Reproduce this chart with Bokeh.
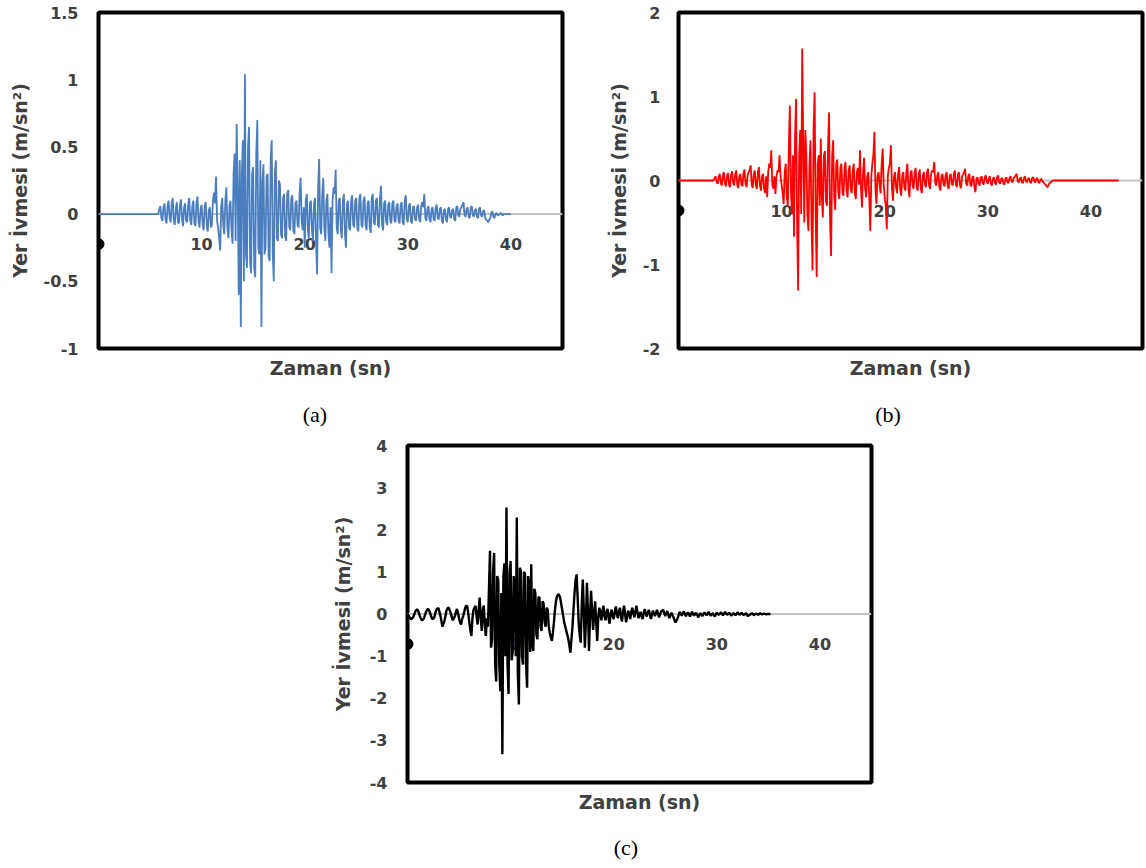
from bokeh.plotting import figure
from bokeh.models import Range1d, FixedTicker, Span, NumeralTickFormatter, Spacer, Div
from bokeh.layouts import row, column
from bokeh.embed import file_html
from bokeh.resources import INLINE
from bokeh.core.properties import value

# ---------------- data ----------------
dt = 0.1  # sampling step of the digitised records (s)

# (a) blue record, samples from t = 5.8 s
t0_a = 5.8
acc_a = [
    0.00, 0.04, 0.06, -0.03, -0.05, 0.05, 0.08, -0.04, -0.07, 0.06,
    0.10, -0.03, -0.06, 0.08, 0.12, -0.05, -0.08, 0.04, 0.09, -0.06,
    -0.07, 0.07, 0.11, -0.04, -0.09, 0.05, 0.08, -0.05, -0.06, 0.07,
    0.12, -0.05, -0.08, 0.06, 0.10, -0.07, -0.09, 0.08, 0.13, -0.06,
    -0.10, 0.04, 0.07, -0.08, -0.12, 0.06, 0.09, -0.09, -0.13, 0.03,
    0.05, -0.10, -0.08, 0.10, 0.16, 0.08, 0.28, -0.05, -0.10, -0.18,
    -0.27, 0.05, 0.12, -0.08, -0.15, 0.10, 0.20, -0.10, -0.18, 0.06,
    0.10, -0.12, -0.22, 0.30, 0.45, -0.20, 0.67, 0.20, -0.60, 0.40,
    -0.84, 0.30, 0.55, -0.50, 1.04, -0.30, -0.40, 0.50, 0.65, -0.35,
    -0.44, 0.30, 0.35, -0.40, -0.47, 0.45, 0.70, -0.25, -0.30, 0.40,
    -0.84, 0.25, 0.37, -0.30, -0.25, 0.28, 0.30, -0.32, -0.35, 0.42,
    0.55, -0.30, -0.50, 0.30, 0.40, -0.18, -0.20, 0.25, 0.22, -0.15,
    -0.18, 0.12, 0.15, -0.16, -0.20, 0.15, 0.18, -0.10, -0.12, 0.12,
    0.14, -0.12, -0.15, 0.08, 0.10, -0.08, -0.10, 0.15, 0.27, -0.05,
    -0.12, 0.05, -0.25, 0.10, 0.15, -0.12, -0.18, 0.08, 0.10, -0.12,
    -0.20, 0.08, 0.12, -0.20, -0.45, 0.20, 0.41, -0.10, -0.15, 0.15,
    0.27, -0.10, -0.20, 0.10, 0.15, -0.15, -0.25, 0.05, -0.44, 0.10,
    0.20, 0.15, 0.33, -0.10, -0.15, 0.10, 0.12, -0.12, -0.18, 0.10,
    0.15, -0.15, -0.25, 0.08, 0.10, -0.10, -0.12, 0.10, 0.14, -0.08,
    -0.10, 0.10, 0.12, -0.10, -0.13, 0.12, 0.15, -0.08, -0.10, 0.10,
    0.13, -0.08, -0.12, 0.08, 0.10, -0.10, -0.14, 0.12, 0.15, -0.06,
    -0.08, 0.10, 0.12, -0.08, -0.10, 0.12, 0.21, -0.08, -0.12, 0.08,
    0.10, -0.06, -0.08, 0.07, 0.09, -0.05, -0.07, 0.08, 0.10, -0.05,
    -0.06, 0.06, 0.08, -0.05, -0.07, 0.07, 0.09, -0.06, -0.08, 0.10,
    0.14, -0.04, -0.06, 0.06, 0.08, -0.05, -0.07, 0.05, 0.06, -0.04,
    -0.05, 0.05, 0.07, -0.04, -0.06, 0.06, 0.09, 0.05, 0.15, -0.03,
    -0.05, 0.04, 0.06, -0.04, -0.06, 0.04, 0.05, -0.04, -0.05, 0.05,
    0.07, -0.03, -0.04, 0.04, 0.05, -0.05, -0.07, 0.03, 0.04, -0.04,
    -0.06, 0.04, 0.05, -0.02, -0.03, 0.03, 0.04, -0.04, -0.05, 0.05,
    0.06, -0.01, -0.02, 0.04, 0.05, 0.07, 0.09, -0.01, -0.02, 0.04,
    0.05, -0.02, -0.03, 0.05, 0.06, -0.01, -0.02, 0.03, 0.04, -0.02,
    -0.03, 0.04, 0.05, -0.01, -0.02, 0.02, 0.03, -0.03, -0.04, -0.05,
    -0.06, -0.04, -0.03, 0.01, 0.02, -0.02, -0.03, 0.00, 0.01, -0.01,
    -0.01, 0.00, 0.01, 0.00, -0.01, 0.00,
]
end_a = 40.0

# (b) red record, samples from t = 3.4 s
t0_b = 3.4
acc_b = [
    0.00, 0.03, 0.05, -0.02, -0.04, 0.05, 0.08, -0.03, -0.06, 0.06,
    0.10, -0.04, -0.07, 0.05, 0.09, -0.05, -0.08, 0.07, 0.11, -0.03,
    -0.06, 0.08, 0.12, -0.05, -0.09, 0.05, 0.08, -0.04, -0.07, 0.09,
    0.13, -0.04, -0.08, 0.06, 0.10, 0.12, 0.18, -0.05, -0.09, 0.08,
    0.12, -0.06, -0.10, 0.10, 0.16, -0.06, -0.12, 0.05, 0.08, -0.10,
    -0.15, 0.05, -0.20, 0.10, 0.20, 0.15, 0.36, -0.05, -0.10, 0.05,
    -0.16, 0.05, 0.12, 0.10, 0.30, 0.05, -0.05, -0.15, -0.28, 0.10,
    0.20, -0.20, -0.30, 0.40, 0.89, -0.10, -0.40, 0.30, -0.67, 0.50,
    0.97, -0.50, -1.31, 0.30, 0.60, -0.40, 1.57, 0.40, -0.50, 0.60,
    0.30, -0.40, -0.60, 0.20, 0.48, -0.50, -1.07, 0.60, 1.05, -0.40,
    -1.15, 0.20, 0.30, -0.30, 0.50, -0.20, -0.44, 0.30, 0.35, -0.25,
    -0.30, 0.40, 0.81, -0.50, -0.90, 0.30, 0.48, -0.20, -0.35, 0.20,
    0.25, -0.15, -0.22, 0.15, 0.20, -0.15, -0.18, 0.15, 0.22, -0.12,
    -0.20, 0.12, 0.18, -0.10, -0.15, 0.12, 0.20, -0.15, -0.22, 0.10,
    0.15, -0.05, 0.36, -0.10, -0.32, 0.10, 0.27, -0.10, -0.20, 0.05,
    0.10, -0.20, -0.60, 0.05, 0.20, 0.30, 0.58, -0.10, -0.28, 0.05,
    0.10, -0.05, -0.15, 0.20, 0.38, -0.05, -0.20, -0.30, -0.58, 0.05,
    0.15, 0.20, 0.42, -0.10, -0.24, 0.05, 0.10, -0.08, -0.15, 0.08,
    0.16, -0.10, -0.18, 0.06, 0.10, -0.08, -0.12, 0.10, 0.20, -0.10,
    -0.20, 0.08, 0.12, -0.06, -0.10, 0.10, 0.15, -0.08, -0.12, 0.08,
    0.13, -0.10, -0.15, 0.06, 0.10, -0.05, -0.08, 0.10, 0.14, -0.06,
    -0.10, 0.08, 0.12, 0.10, 0.22, -0.03, -0.06, 0.06, 0.10, -0.08,
    -0.12, 0.05, 0.08, -0.04, -0.07, 0.06, 0.10, -0.06, -0.10, 0.05,
    0.08, -0.04, -0.06, 0.08, 0.12, -0.05, -0.08, 0.07, 0.10, -0.06,
    -0.09, 0.05, 0.07, 0.10, 0.14, -0.04, -0.06, 0.05, 0.08, -0.05,
    -0.07, 0.04, 0.05, -0.08, -0.14, 0.02, 0.04, -0.04, -0.06, 0.03,
    0.05, -0.03, -0.05, 0.04, 0.06, -0.02, -0.04, 0.03, 0.05, -0.04,
    -0.06, 0.02, 0.04, -0.03, -0.05, 0.04, 0.06, -0.02, -0.04, 0.02,
    0.03, -0.03, -0.05, 0.02, 0.04, -0.02, -0.03, 0.03, 0.05, -0.01,
    -0.02, 0.03, 0.04, 0.06, 0.08, -0.01, -0.02, 0.02, 0.04, -0.02,
    -0.03, 0.03, 0.05, -0.01, -0.02, 0.02, 0.03, -0.02, -0.03, 0.03,
    0.04, -0.01, -0.02, 0.02, 0.03, -0.02, -0.03, 0.01, 0.02, -0.01,
    -0.02, -0.04, -0.05, -0.07, -0.08, -0.05, -0.03, -0.02, -0.01, 0.00,
    0.00,
]
end_b = 42.7

# (c) black record, samples from t = 0 s
t0_c = 0.0
acc_c = [
    0.00, -0.04, -0.08, -0.11, -0.12, -0.09, -0.05, 0.02, 0.08, 0.10,
    0.10, 0.03, -0.05, -0.11, -0.15, -0.13, -0.10, -0.02, 0.05, 0.10,
    0.12, 0.08, 0.02, -0.06, -0.12, -0.11, -0.08, 0.02, 0.10, 0.13,
    0.14, 0.05, -0.05, -0.18, -0.30, -0.22, -0.15, -0.02, 0.10, 0.14,
    0.15, 0.08, 0.02, -0.08, -0.15, -0.10, -0.05, 0.05, 0.12, 0.02,
    -0.10, -0.20, -0.25, -0.12, -0.05, 0.05, 0.15, 0.20, 0.18, 0.00,
    -0.20, -0.40, -0.52, -0.10, 0.10, 0.15, 0.19, -0.05, -0.25, 0.10,
    0.39, -0.10, -0.40, 0.10, 0.20, -0.30, -0.52, -0.10, -0.30, 0.60,
    1.50, -0.80, -0.60, 1.00, 1.45, -1.20, -1.60, 0.90, 0.80, -1.20,
    -1.83, 0.50, -3.33, 0.90, 1.20, -1.00, 2.53, -1.20, -1.90, 1.00,
    1.26, -1.10, -0.90, 0.90, 0.60, -1.00, 2.29, -1.40, -2.15, 1.10,
    1.00, -1.00, -1.20, 1.00, 0.95, -1.20, -1.75, 0.90, 0.70, -0.90,
    1.18, -0.70, -0.88, 0.60, 0.50, -0.50, -0.60, 0.40, 0.39, -0.30,
    -0.40, 0.30, 0.25, -0.20, -0.30, 0.15, 0.10, -0.30, -0.45, -0.55,
    -0.64, -0.45, -0.20, 0.10, 0.30, 0.42, 0.47, 0.45, 0.39, 0.25,
    0.10, -0.05, -0.20, -0.30, -0.40, -0.50, -0.60, -0.75, -0.92, -0.60,
    -0.30, 0.10, 0.50, 0.80, 0.94, 0.40, -0.20, -0.50, -0.68, 0.20,
    0.82, 0.10, -0.80, -0.20, 0.74, 0.10, -0.88, -0.10, 0.55, 0.10,
    -0.38, 0.00, 0.30, -0.20, -0.64, -0.10, 0.15, 0.05, -0.15, 0.05,
    0.20, -0.05, -0.15, 0.05, 0.12, -0.10, -0.23, 0.02, 0.10, -0.05,
    -0.12, 0.05, 0.18, 0.02, -0.10, 0.05, 0.15, -0.05, -0.18, 0.05,
    0.20, 0.00, -0.20, -0.05, 0.08, 0.00, -0.12, 0.05, 0.15, 0.02,
    -0.08, 0.05, 0.20, 0.05, -0.10, -0.02, 0.05, -0.05, -0.12, 0.02,
    0.12, 0.02, -0.06, 0.03, 0.10, 0.00, -0.12, -0.02, 0.08, 0.02,
    -0.05, 0.03, 0.10, 0.00, -0.08, 0.00, 0.06, 0.08, 0.10, 0.02,
    -0.05, 0.02, 0.07, -0.02, -0.10, -0.03, 0.03, -0.03, -0.08, -0.15,
    -0.20, -0.15, -0.10, -0.02, 0.05, 0.00, -0.04, 0.02, 0.06, 0.00,
    -0.05, 0.00, 0.04, -0.01, -0.06, 0.00, 0.05, 0.00, -0.04, 0.00,
    0.03, -0.03, -0.08, -0.02, 0.02, -0.02, -0.05, 0.00, 0.04, 0.00,
    -0.03, 0.01, 0.05, 0.00, -0.04, -0.01, 0.02, -0.02, -0.06, -0.01,
    0.03, 0.00, -0.02, 0.01, 0.04, 0.00, -0.03, 0.01, 0.05, 0.01,
    -0.02, 0.00, 0.03, 0.00, -0.04, -0.01, 0.02, 0.00, -0.03, 0.00,
    0.04, 0.01, -0.02, 0.00, 0.03, 0.00, -0.03, -0.01, 0.02, 0.00,
    -0.05, -0.03, -0.02, 0.00, 0.02, 0.00, -0.03, -0.01, 0.01, 0.00,
    -0.02, 0.00, 0.02, 0.00, -0.01, 0.00, 0.01, 0.00, -0.01, 0.00,
    0.00,
]
end_c = 35.2

x_range_max = 45
x_ticks = [10, 20, 30, 40]
x_tick_labels = ["10", "20", "30", "40"]

y_ticks_a = [-1, -0.5, 0, 0.5, 1, 1.5]
y_ticks_b = [-2, -1, 0, 1, 2]
y_ticks_c = [-4, -3, -2, -1, 0, 1, 2, 3, 4]

y_title = "Yer İvmesi (m/sn²)"
x_title = "Zaman (sn)"
captions = ["(a)", "(b)", "(c)"]

# ---------------- styling ----------------
FONT = "DejaVu Sans"
TXT = "#404040"
FRAME_W = 464


def series(t0, acc, t_end):
    ts = [round(t0 + i * dt, 3) for i in range(len(acc))]
    ys = list(acc)
    if t0 > 0:
        ts = [0.0] + ts
        ys = [0.0] + ys
    ts = ts + [t_end]
    ys = ys + [0.0]
    return ts, ys


def panel(ts, ys, color, lw, ymin, ymax, yticks, fmt,
          width, height, left, right, top, bottom, frame_h, y_std, t_std):
    p = figure(width=width, height=height, output_backend="svg", toolbar_location=None,
               x_range=Range1d(0, x_range_max), y_range=Range1d(ymin, ymax),
               min_border_left=left, min_border_right=right,
               min_border_top=top, min_border_bottom=bottom)
    p.background_fill_color = "white"
    p.border_fill_color = "white"
    p.outline_line_color = "black"
    p.outline_line_width = 4
    p.xgrid.visible = False
    p.ygrid.visible = False

    # y axis: labels only
    ax = p.yaxis[0]
    ax.ticker = FixedTicker(ticks=yticks)
    ax.formatter = NumeralTickFormatter(format=fmt)
    ax.axis_line_color = None
    ax.major_tick_line_color = None
    ax.minor_tick_line_color = None
    ax.major_tick_out = 0
    ax.major_tick_in = 0
    ax.major_label_standoff = y_std
    ax.major_label_text_font = FONT
    ax.major_label_text_font_style = "bold"
    ax.major_label_text_font_size = "16px"
    ax.major_label_text_color = TXT
    ax.axis_label = y_title
    ax.axis_label_text_font = FONT
    ax.axis_label_text_font_style = "bold"
    ax.axis_label_text_font_size = "19px"
    ax.axis_label_text_color = TXT
    ax.axis_label_standoff = t_std

    # x axis: title only (tick labels sit inside the frame, as in Excel)
    bx = p.xaxis[0]
    bx.ticker = FixedTicker(ticks=[])
    bx.axis_line_color = None
    bx.major_tick_line_color = None
    bx.minor_tick_line_color = None
    bx.major_tick_out = 0
    bx.major_tick_in = 0
    bx.major_label_standoff = 0
    bx.axis_label = x_title
    bx.axis_label_text_font = FONT
    bx.axis_label_text_font_style = "bold"
    bx.axis_label_text_font_size = "19px"
    bx.axis_label_text_color = TXT
    bx.axis_label_standoff = 8

    # horizontal axis line at zero (light grey)
    zero = Span(location=0, dimension="width", line_color="#c4c4c4", line_width=2, level="underlay")
    p.add_layout(zero)

    # tick labels ~30 px below the zero line
    per_px = (ymax - ymin) / frame_h
    ly = -30 * per_px
    p.text(x=x_ticks, y=[ly] * len(x_ticks), text=x_tick_labels,
           text_font=value(FONT), text_font_style="bold", text_font_size="16px",
           text_color=TXT, text_align="center", text_baseline="middle")
    p.scatter(x=[0], y=[ly], size=11, color="black")

    p.line(ts, ys, line_color=color, line_width=lw)
    return p


def caption(text, width, height, line_h):
    return Div(text=text, width=width, height=height, margin=0,
               styles={"font-family": "Liberation Serif", "font-size": "22px",
                       "color": "black", "text-align": "center",
                       "line-height": f"{line_h}px"})


ta, ya = series(t0_a, acc_a, end_a)
tb, yb = series(t0_b, acc_b, end_b)
tc, yc = series(t0_c, acc_c, end_c)

pa = panel(ta, ya, "#4a7ebf", 1.8, -1, 1.5, y_ticks_a, "0.[0]",
           width=600, height=392, left=98, right=600 - 98 - FRAME_W, top=12, bottom=44,
           frame_h=336, y_std=20, t_std=10)
pb = panel(tb, yb, "#ff0000", 1.8, -2, 2, y_ticks_b, "0",
           width=546, height=392, left=78, right=546 - 78 - FRAME_W, top=12, bottom=44,
           frame_h=336, y_std=18, t_std=10)
pc = panel(tc, yc, "#000000", 2.4, -4, 4, y_ticks_c, "0",
           width=600, height=398, left=107, right=600 - 107 - FRAME_W, top=13, bottom=48,
           frame_h=337, y_std=20, t_std=13)

cap_row_1 = row(caption(captions[0], 630, 40, 46), caption(captions[1], 516, 40, 46), margin=0)
cap_row_2 = row(Spacer(width=300, height=38, margin=0), caption(captions[2], 652, 38, 36), margin=0)

layout = column(
    row(pa, pb, margin=0),
    cap_row_1,
    row(Spacer(width=300, height=398, margin=0), pc, margin=0),
    cap_row_2,
    margin=0,
)
open("out.html", "w").write(file_html(layout, INLINE))
